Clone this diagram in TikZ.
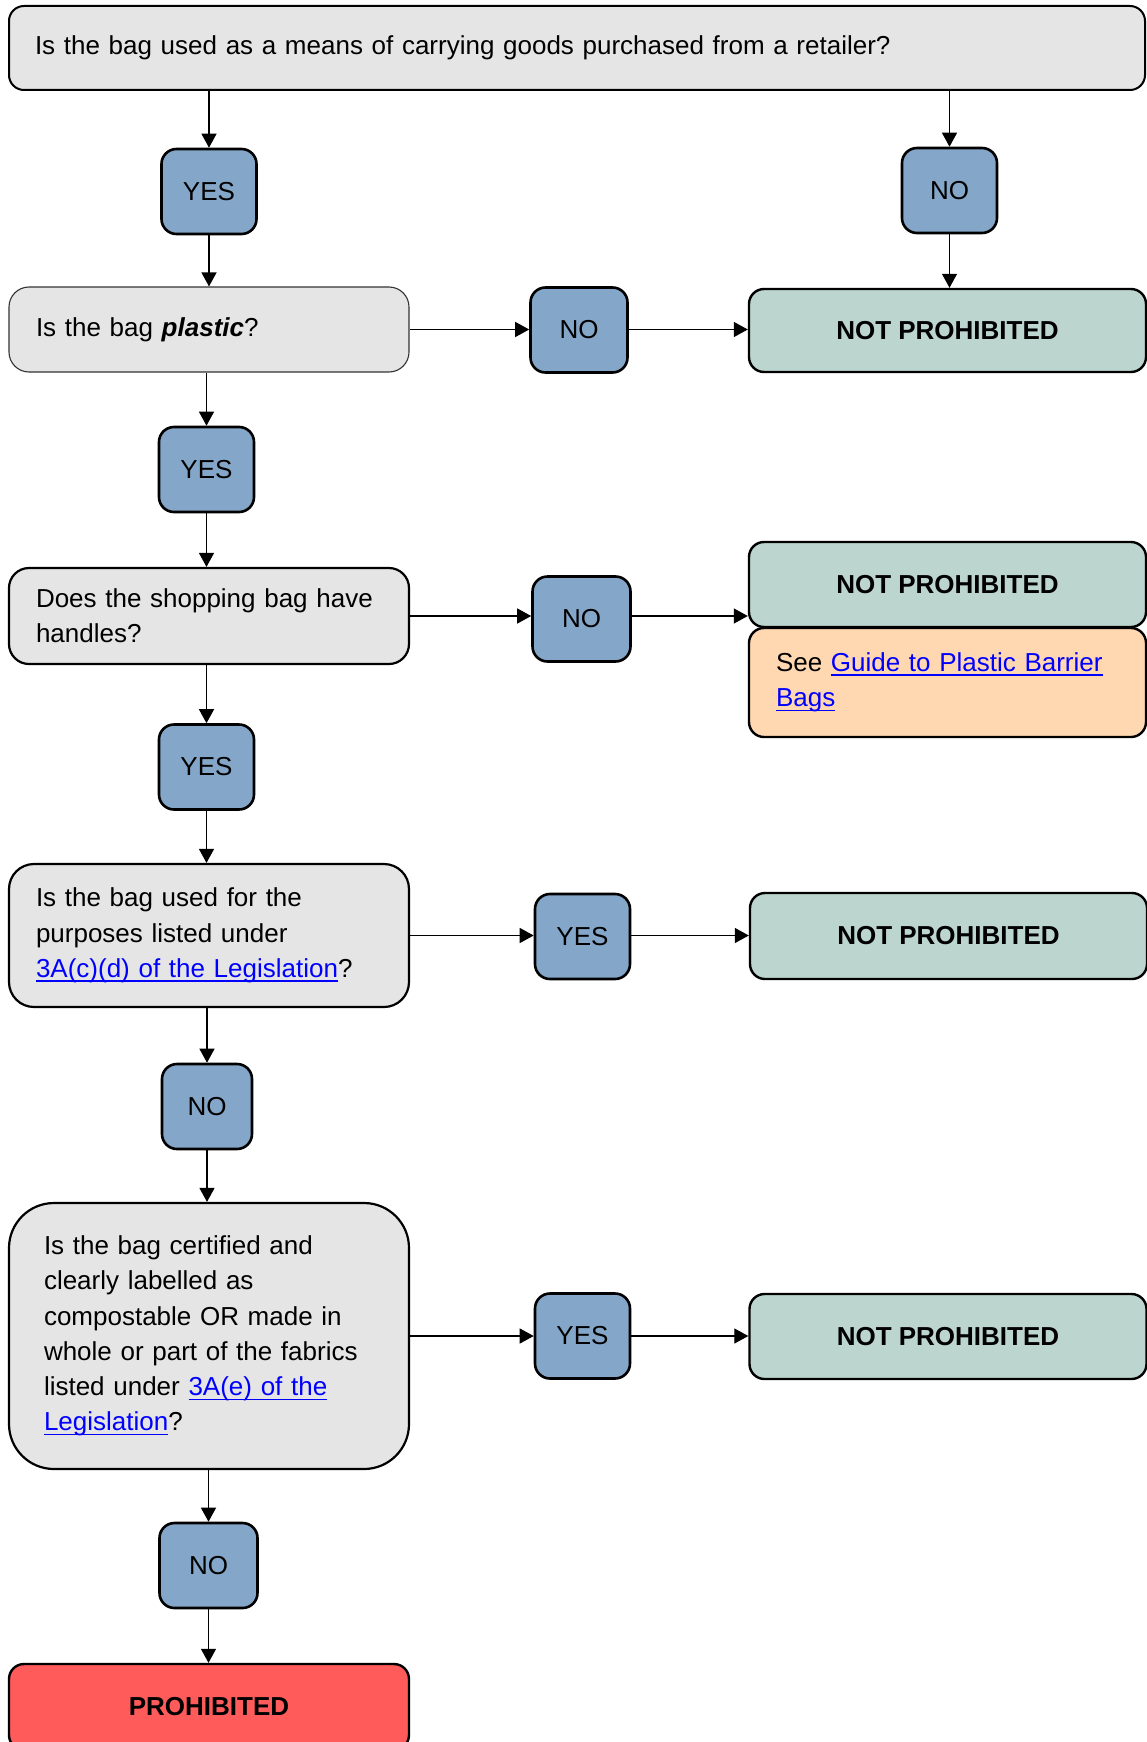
\documentclass[tikz,border=0pt]{standalone}
\usepackage{fontspec}
\setmainfont{Liberation Sans}
\usepackage{xcolor}
\usepackage{tikz}
\usetikzlibrary{arrows.meta}

\definecolor{boxgray}{HTML}{E5E5E5}
\definecolor{answerblue}{HTML}{84A6C8}
\definecolor{verdictgreen}{HTML}{BCD5CF}
\definecolor{notepeach}{HTML}{FFD7B1}
\definecolor{stopred}{HTML}{FF5B5B}
\definecolor{linkblue}{HTML}{0000FF}

\newsavebox{\linkbox}
\newcommand{\weblink}[1]{\leavevmode{\color{linkblue}\sbox{\linkbox}{#1}\rlap{\rule[-4.5pt]{\wd\linkbox}{1.6pt}}\usebox{\linkbox}}}

\begin{document}
\begin{tikzpicture}[x=1pt, y=-1pt,
    every node/.style={font=\fontsize{26}{35.3}\selectfont},
    question/.style={draw=black, line width=2.2pt, fill=boxgray, rounded corners=20pt,
        minimum width=400pt, inner xsep=27pt, text width=346pt, align=left},
    answer/.style={draw=black, line width=2.6pt, fill=answerblue, rounded corners=15pt,
        minimum width=95pt, minimum height=85pt, inner sep=0pt},
    verdict/.style={draw=black, line width=2.4pt, fill=verdictgreen, rounded corners=15pt,
        minimum width=397pt, minimum height=85pt, align=center,
        font=\fontsize{26}{35.3}\selectfont\bfseries},
    flow/.style={->, >={Triangle[length=14pt,width=15pt]}, line width=1.3pt}]

    \useasboundingbox (0,0) rectangle (1147,1742);

    % questions down the left side
    \node[question, minimum width=1136pt, text width=1084pt, minimum height=84pt,
        rounded corners=15pt, line width=2pt, inner xsep=26pt] (carry) at (577,48)
        {Is the bag used as a means of carrying goods purchased from a retailer?};
    \node[question, minimum height=85pt, line width=1.1pt, draw=black!80] (plastic) at (209,329.5)
        {Is the bag \textbf{\textit{plastic}}?};
    \node[question, minimum height=96pt] (handles) at (209,616)
        {Does the shopping bag have\\handles?};
    \node[question, minimum height=143pt, rounded corners=25pt] (purpose) at (209,935.5)
        {Is the bag used for the\\purposes listed under\\\weblink{3A(c)(d) of the Legislation}?};
    \node[question, minimum height=266pt, rounded corners=45pt, inner xsep=35pt, text width=330pt] (compost) at (209,1336)
        {Is the bag certified and\\clearly labelled as\\compostable OR made in\\whole or part of the fabrics\\listed under \weblink{3A(e) of the}\\\weblink{Legislation}?};
    \node[verdict, fill=stopred, minimum width=400pt, minimum height=86pt] (banned) at (209,1707) {PROHIBITED};

    % yes / no boxes
    \node[answer] (carryyes) at (209,191.5) {YES};
    \node[answer] (carryno) at (949.5,190.5) {NO};
    \node[answer, minimum width=97pt] (plasticno) at (579,330) {NO};
    \node[answer] (plasticyes) at (206.5,469.5) {YES};
    \node[answer, minimum width=98pt] (handlesno) at (581.5,619) {NO};
    \node[answer] (handlesyes) at (206.5,767) {YES};
    \node[answer] (purposeyes) at (582.5,936.5) {YES};
    \node[answer, minimum width=90pt] (purposeno) at (207,1106.5) {NO};
    \node[answer] (compostyes) at (582.5,1336) {YES};
    \node[answer, minimum width=98pt] (compostno) at (208.5,1565.5) {NO};

    % outcomes on the right
    \node[verdict, minimum height=83pt] (free1) at (947.5,330.5) {NOT PROHIBITED};
    \node[verdict] (free2) at (947.5,584.5) {NOT PROHIBITED};
    \node[draw=black, line width=2.4pt, fill=notepeach, rounded corners=15pt,
        minimum width=397pt, minimum height=109pt, inner xsep=27pt, text width=343pt, align=left] (guide) at (947.5,682.5)
        {See \weblink{Guide to Plastic Barrier}\\\weblink{Bags}};
    \node[verdict, minimum height=86pt] (free3) at (948.5,936) {NOT PROHIBITED};
    \node[verdict] (free4) at (948,1336.5) {NOT PROHIBITED};

    \draw[flow] (carryyes.north |- carry.south) -- (carryyes.north);
    \draw[flow] (carryno.north |- carry.south) -- (carryno.north);
    \draw[flow] (carryno.south) -- (carryno.south |- free1.north);
    \draw[flow] (carryyes.south) -- (carryyes.south |- plastic.north);

    \draw[flow] (plastic.east) -- (plastic.east -| plasticno.west);
    \draw[flow] (plastic.east -| plasticno.east) -- (plastic.east -| free1.west);
    \draw[flow] (plasticyes.north |- plastic.south) -- (plasticyes.north);
    \draw[flow] (plasticyes.south) -- (plasticyes.south |- handles.north);

    \draw[flow] (handles.east) -- (handles.east -| handlesno.west);
    \draw[flow] (handles.east -| handlesno.east) -- (handles.east -| free2.west);
    \draw[flow] (handlesyes.north |- handles.south) -- (handlesyes.north);
    \draw[flow] (handlesyes.south) -- (handlesyes.south |- purpose.north);

    \draw[flow] (purpose.east) -- (purpose.east -| purposeyes.west);
    \draw[flow] (purpose.east -| purposeyes.east) -- (purpose.east -| free3.west);
    \draw[flow] (purposeno.north |- purpose.south) -- (purposeno.north);
    \draw[flow] (purposeno.south) -- (purposeno.south |- compost.north);

    \draw[flow] (compost.east) -- (compost.east -| compostyes.west);
    \draw[flow] (compost.east -| compostyes.east) -- (compost.east -| free4.west);
    \draw[flow] (compostno.north |- compost.south) -- (compostno.north);
    \draw[flow] (compostno.south) -- (compostno.south |- banned.north);
\end{tikzpicture}
\end{document}
